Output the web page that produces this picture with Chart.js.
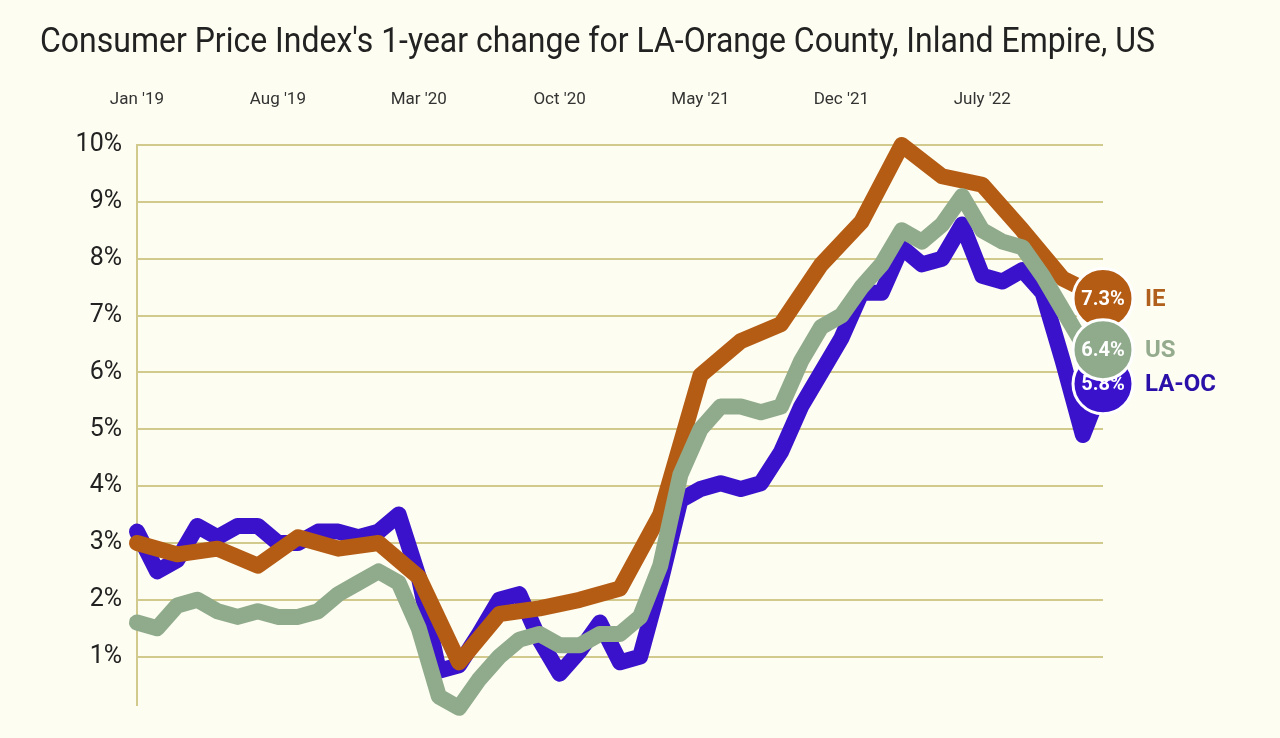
<!DOCTYPE html>
<html lang="en">

<head>
  <meta charset="UTF-8">
  <title>CPI 1-year change - LA-OC, Inland Empire, US</title>
  <script src="https://cdn.jsdelivr.net/npm/chart.js"></script>
  <style>
    html, body {
      margin: 0;
      padding: 0;
      background: #fdfdf1;
    }
    .chart-box {
      position: relative;
      width: 1280px;
      height: 738px;
    }
  </style>
</head>

<body>
  <div class="chart-box">
    <canvas id="cpi-chart"></canvas>
  </div>

  <script>
    const titleText = "Consumer Price Index's 1-year change for LA-Orange County, Inland Empire, US";

    // Monthly categories, Jan 2019 - Jan 2023
    const months = [
      '2019-01', '2019-02', '2019-03', '2019-04', '2019-05', '2019-06', '2019-07', '2019-08', '2019-09', '2019-10', '2019-11', '2019-12',
      '2020-01', '2020-02', '2020-03', '2020-04', '2020-05', '2020-06', '2020-07', '2020-08', '2020-09', '2020-10', '2020-11', '2020-12',
      '2021-01', '2021-02', '2021-03', '2021-04', '2021-05', '2021-06', '2021-07', '2021-08', '2021-09', '2021-10', '2021-11', '2021-12',
      '2022-01', '2022-02', '2022-03', '2022-04', '2022-05', '2022-06', '2022-07', '2022-08', '2022-09', '2022-10', '2022-11', '2022-12',
      '2023-01'
    ];

    // one label every 7 months along the top
    const xTickLabels = ["Jan '19", "Aug '19", "Mar '20", "Oct '20", "May '21", "Dec '21", "July '22"];
    const yTicks = [1, 2, 3, 4, 5, 6, 7, 8, 9, 10];

    // LA-Orange County, monthly
    const laoc = [
      3.2, 2.5, 2.7, 3.3, 3.1, 3.3, 3.3, 3.0, 3.0, 3.2, 3.2, 3.1,
      3.2, 3.5, 2.4, 0.75, 0.85, 1.4, 2.0, 2.1, 1.3, 0.7, 1.1, 1.6,
      0.9, 1.0, 2.3, 3.75, 3.95, 4.05, 3.95, 4.05, 4.6, 5.4, 6.0, 6.6,
      7.4, 7.4, 8.2, 7.9, 8.0, 8.6, 7.7, 7.6, 7.8, 7.4, 6.2, 4.9,
      5.8
    ];

    // Inland Empire, every other month (gaps spanned)
    const ie = [
      3.0, null, 2.8, null, 2.9, null, 2.6, null, 3.1, null, 2.9, null,
      3.0, null, 2.4, null, 0.9, null, 1.75, null, 1.85, null, 2.0, null,
      2.2, null, 3.5, null, 5.95, null, 6.55, null, 6.85, null, 7.9, null,
      8.65, null, 10.0, null, 9.45, null, 9.3, null, 8.5, null, 7.65, null,
      7.3
    ];

    // US, monthly
    const us = [
      1.6, 1.5, 1.9, 2.0, 1.8, 1.7, 1.8, 1.7, 1.7, 1.8, 2.1, 2.3,
      2.5, 2.3, 1.5, 0.3, 0.1, 0.6, 1.0, 1.3, 1.4, 1.2, 1.2, 1.4,
      1.4, 1.7, 2.6, 4.2, 5.0, 5.4, 5.4, 5.3, 5.4, 6.2, 6.8, 7.0,
      7.5, 7.9, 8.5, 8.3, 8.6, 9.1, 8.5, 8.3, 8.2, 7.7, 7.1, 6.5,
      6.4
    ];

    const gridColor = '#d2c98c';

    // title, squeezed a little to look like the condensed original
    const titlePlugin = {
      id: 'chartTitle',
      beforeDraw(chart) {
        const ctx = chart.ctx;
        ctx.save();
        ctx.font = '35px Roboto';
        const w = ctx.measureText(titleText).width;
        ctx.translate(40, 52);
        ctx.scale(1115 / w, 1);
        ctx.fillStyle = '#222';
        ctx.textBaseline = 'alphabetic';
        ctx.fillText(titleText, 0, 0);
        ctx.restore();
      }
    };

    // value inside the end circle and series name next to it
    // (runs per dataset, so a later circle can cover an earlier label)
    const endLabelPlugin = {
      id: 'endLabels',
      afterDatasetDraw(chart, args) {
        const ctx = chart.ctx;
        const ds = chart.data.datasets[args.index];
        const last = ds.data.length - 1;
        const pt = args.meta.data[last];
        ctx.save();
        ctx.textBaseline = 'middle';
        ctx.textAlign = 'center';
        ctx.fillStyle = '#ffffff';
        ctx.font = 'bold 20px Roboto';
        ctx.fillText(ds.data[last].toFixed(1) + '%', pt.x, pt.y + 1);
        ctx.textAlign = 'left';
        ctx.fillStyle = ds.nameColor;
        ctx.font = 'bold 24px Roboto';
        ctx.fillText(ds.label, pt.x + 42, pt.y + 1);
        ctx.restore();
      }
    };

    function makeDataset(name, values, color, nameColor) {
      return {
        label: name,
        data: values,
        nameColor: nameColor,
        borderColor: color,
        backgroundColor: color,
        borderWidth: 16,
        borderJoinStyle: 'round',
        borderCapStyle: 'round',
        tension: 0,
        spanGaps: true,
        clip: false,
        pointRadius: c => c.dataIndex === values.length - 1 ? 30 : 0,
        pointHoverRadius: c => c.dataIndex === values.length - 1 ? 30 : 0,
        pointBackgroundColor: color,
        pointBorderColor: '#ffffff',
        pointBorderWidth: 3
      };
    }

    // Chart.js paints dataset 0 last, so US goes first to sit on top
    new Chart(document.getElementById('cpi-chart'), {
      type: 'line',
      data: {
        labels: months,
        datasets: [
          makeDataset('US', us, '#90ab8c', '#94ab8e'),
          makeDataset('IE', ie, '#b55c14', '#b0601c'),
          makeDataset('LA-OC', laoc, '#3a12cc', '#2a0fa8')
        ]
      },
      options: {
        responsive: true,
        maintainAspectRatio: false,
        animation: false,
        events: [],
        layout: {
          padding: { left: 0, top: 0, right: 177, bottom: 30 }
        },
        plugins: {
          legend: { display: false },
          tooltip: { enabled: false },
          title: { display: false }
        },
        scales: {
          x: {
            position: 'top',
            offset: false,
            grid: { display: false },
            border: { display: false },
            ticks: {
              autoSkip: false,
              maxRotation: 0,
              padding: 27,
              color: '#333',
              font: { family: 'Roboto', size: 17 },
              callback: (val, i) => i % 7 === 0 ? xTickLabels[i / 7] : ''
            },
            afterFit: scale => { scale.height = 145; }
          },
          y: {
            min: 0.15,
            max: 10,
            afterBuildTicks: scale => {
              scale.ticks = yTicks.map(v => ({ value: v }));
            },
            grid: {
              color: gridColor,
              lineWidth: 2,
              drawTicks: false
            },
            border: { display: true, color: gridColor, width: 2 },
            ticks: {
              padding: 15,
              color: '#222',
              font: { family: 'Roboto', size: 25 },
              callback: v => v + '%'
            },
            afterFit: scale => { scale.width = 137; }
          }
        }
      },
      plugins: [titlePlugin, endLabelPlugin]
    });
  </script>
</body>

</html>
